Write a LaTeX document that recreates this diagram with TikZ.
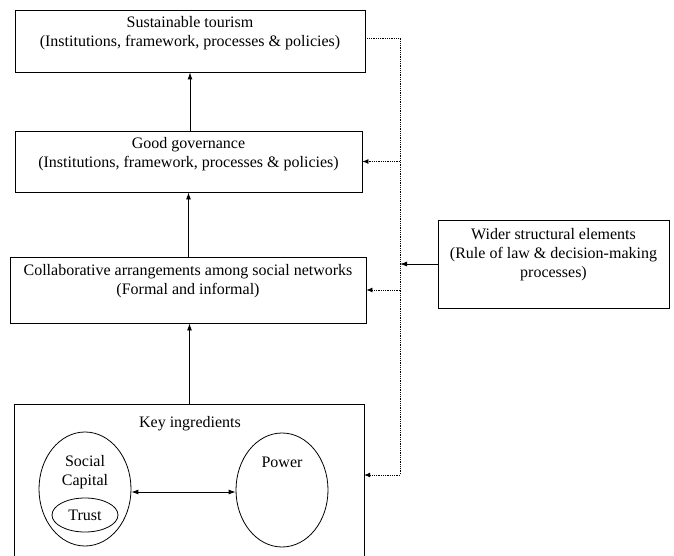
\documentclass[tikz,border=0pt]{standalone}
\usepackage{fontspec}
\setmainfont{Liberation Serif}
\usetikzlibrary{arrows.meta,shapes.geometric}
\begin{document}
\begin{tikzpicture}[x=1pt,y=-1pt,
  box/.style={draw, line width=0.9pt, inner sep=0pt},
  lbl/.style={align=center, font=\fontsize{16}{19}\selectfont, inner sep=0pt},
  arr/.style={-{Latex[length=7pt,width=5pt]}, line width=0.9pt},
  dot/.style={densely dotted, line width=0.8pt},
  darr/.style={dot, -{Latex[length=6pt,width=5pt]}},
  ell/.style={draw, ellipse, line width=0.8pt, inner sep=0pt}]
\useasboundingbox (0,0) rectangle (674,556);

% boxes
\node[box, minimum width=350pt, minimum height=62pt] (st) at (190,41) {};
\node[lbl, anchor=north] (stl) at ([yshift=-7pt]st.north) {Sustainable tourism\\(Institutions, framework, processes \& policies)};

\node[box, minimum width=347pt, minimum height=61pt] (gg) at (188.5,161.5) {};
\node[lbl, anchor=north] (ggl) at ([yshift=-7pt]gg.north) {Good governance\\(Institutions, framework, processes \& policies)};

\node[box, minimum width=356pt, minimum height=66pt] (co) at (188,290) {};
\node[lbl, anchor=north] (col) at ([yshift=-8pt]co.north) {Collaborative arrangements among social networks\\(Formal and informal)};

\node[box, minimum width=231pt, minimum height=88pt] (ws) at (553.5,264) {};
\node[lbl, anchor=north] (wsl) at ([yshift=-9pt]ws.north) {Wider structural elements\\(Rule of law \& decision-making\\processes)};

\node[inner sep=0pt, minimum width=349pt, minimum height=153pt] (key) at (189.5,481.5) {};
\draw[line width=0.9pt] (key.south west) -- (key.north west) -- (key.north east) -- (key.south east);
\node[lbl] (keyl) at (190,424) {Key ingredients};

% ellipses
\node[ell, minimum width=92pt, minimum height=114pt] (sc) at (85,489) {};
\node[lbl] (scl) at (85,472) {Social\\Capital};
\node[ell, minimum width=66pt, minimum height=34pt, font=\fontsize{16}{19}\selectfont] (tr) at (85,515) {Trust};
\node[ell, minimum width=92pt, minimum height=114pt] (pw) at (282,490) {};
\node[lbl] (pwl) at (282,462) {Power};

% connectors
\draw[arr] (st.south |- gg.north) -- (st.south);
\draw[arr] (gg.south |- co.north) -- (gg.south);
\draw[arr] (key.north) -- (key.north |- co.south);
\draw[{Latex[length=7pt,width=5pt]}-{Latex[length=7pt,width=5pt]}, line width=0.9pt] ([yshift=-3pt]sc.east) -- ([yshift=-2pt]pw.west);

\coordinate (vt) at (400,38);
\coordinate (vb) at (400,475);
\draw[darr] ([yshift=3pt]st.east) -| (vb) -- (key.east |- vb);
\draw[darr] (gg.east -| vb) -- (gg.east);
\draw[darr] (co.east -| vb) -- (co.east);
\draw[arr] (ws.west) -- (ws.west -| vb);
\end{tikzpicture}
\end{document}
